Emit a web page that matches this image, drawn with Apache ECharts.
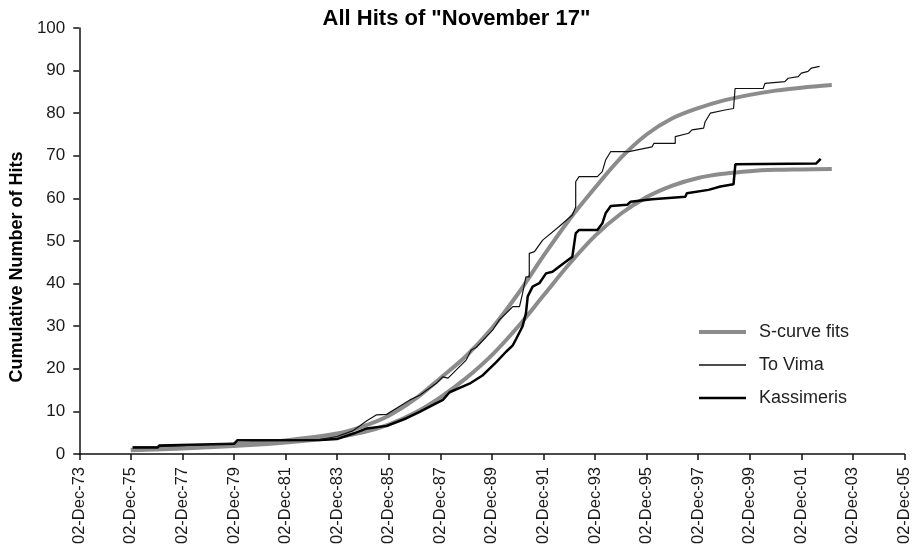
<!DOCTYPE html>
<html>
<head>
<meta charset="utf-8">
<script src="https://cdn.jsdelivr.net/npm/echarts@6/dist/echarts.min.js"></script>
<style>
  html, body { margin: 0; padding: 0; background: #fff; }
  #chart { width: 913px; height: 558px; }
</style>
</head>
<body>
<div id="chart"></div>
<script>
// Reference date 02-Dec-1973 as a decimal year (x axis origin)
const X0 = 1973.92;

const xTickLabels = ['02-Dec-73','02-Dec-75','02-Dec-77','02-Dec-79','02-Dec-81','02-Dec-83','02-Dec-85','02-Dec-87',
  '02-Dec-89','02-Dec-91','02-Dec-93','02-Dec-95','02-Dec-97','02-Dec-99','02-Dec-01','02-Dec-03','02-Dec-05'];

// S-curve fits (decimal years)
const sCurveYears = [1975.92, 1977.92, 1979.92, 1981.92, 1983.92, 1984.92, 1985.92, 1986.92, 1987.92, 1988.92,
  1989.92, 1990.92, 1991.92, 1992.92, 1993.92, 1994.92, 1995.92, 1996.92, 1997.92, 1998.92, 1999.92, 2000.92, 2001.92, 2003.1];
const sCurveToVima = [1.0, 1.5, 2.3, 3.2, 4.8, 6.5, 9.0, 12.8, 17.8, 23, 29.5, 37.5, 46.5, 55, 62.5, 69.5, 75, 78.8, 81.2, 83, 84.3, 85.3, 86, 86.6];
const sCurveKassimeris = [0.9, 1.3, 1.9, 2.7, 4.0, 5.1, 6.9, 9.6, 13.3, 17.8, 23.2, 29.8, 37.2, 44.6, 51.2, 56.4, 60.3, 63, 64.8, 65.8, 66.4, 66.7, 66.8, 66.9];

// To Vima cumulative hits
const toVimaYears = [1975.99, 1976.96, 1977.02, 1979.92, 1980.05, 1983.26, 1983.91, 1984.55, 1985.07, 1985.45, 1985.84,
  1986.74, 1987.12, 1987.77, 1988.02, 1988.22, 1988.93, 1989.12, 1989.31, 1989.94, 1990.21, 1990.60, 1990.73, 1990.99,
  1991.11, 1991.24, 1991.37, 1991.37, 1991.57, 1991.89, 1992.53, 1993.04, 1993.17, 1993.17, 1993.30, 1994.01, 1994.20,
  1994.33, 1994.53, 1995.23, 1996.13, 1996.20, 1997.03, 1997.03, 1997.55, 1997.68, 1998.13, 1998.19, 1998.39, 1998.96,
  1999.29, 1999.35, 2000.44, 2000.51, 2001.28, 2001.41, 2001.80, 2001.92, 2002.18, 2002.31, 2002.63];
const toVimaHits = [1.7, 1.7, 2.1, 2.5, 3.3, 3.4, 4.1, 5.5, 7.8, 9.2, 9.3,
  12.7, 13.8, 16.6, 18.1, 17.8, 22.1, 24.4, 25, 29, 31.5, 33.8, 34.6, 34.6,
  37.7, 41.6, 41.6, 47.1, 47.5, 50.2, 53.4, 56.1, 58, 63.9, 65.1, 65.1, 66.3,
  69, 71, 71, 72.1, 72.9, 72.9, 74.5, 75.3, 76.1, 76.5, 78, 80, 80.75,
  81.1, 85.8, 85.8, 87, 87.4, 88.2, 88.6, 89.4, 89.8, 90.6, 91];

// Kassimeris cumulative hits
const kassYears = [1975.99, 1976.96, 1977.02, 1979.92, 1980.05, 1983.26, 1983.91, 1984.55, 1985.07, 1985.84, 1986.61,
  1987.12, 1987.51, 1988.02, 1988.28, 1989.05, 1989.57, 1990.08, 1990.47, 1990.73, 1990.86, 1991.11, 1991.24, 1991.31,
  1991.50, 1991.76, 1992.02, 1992.27, 1992.64, 1993.04, 1993.17, 1993.30, 1994.01, 1994.20, 1994.33, 1994.53, 1995.17,
  1995.30, 1996.13, 1997.42, 1997.48, 1998.32, 1998.78, 1999.29, 1999.36, 2002.50, 2002.67];
const kassHits = [1.5, 1.5, 2.0, 2.4, 3.2, 3.3, 3.5, 4.8, 6.0, 6.6, 8.4,
  9.9, 11.1, 12.7, 14.5, 16.5, 18.5, 21.5, 24, 25.5, 27, 30, 33, 37,
  39.3, 40.1, 42.4, 42.8, 44.5, 46.3, 51.8, 52.6, 52.6, 54.1, 56.5, 58.2, 58.5,
  59.2, 59.8, 60.4, 61.2, 62, 62.8, 63.3, 68, 68.2, 69.3];

function pairs(years, vals) { return years.map((y, i) => [y - X0, vals[i]]); }

const chart = echarts.init(document.getElementById('chart'), null, { renderer: 'canvas' });
const FONT = 'Liberation Sans, Arial, sans-serif';
const GREY = '#8c8c8c';
const INK = '#111';

chart.setOption({
  animation: false,
  backgroundColor: '#fff',
  title: {
    text: 'All Hits of "November 17"',
    left: 'center',
    top: 3,
    textStyle: { fontFamily: FONT, fontWeight: 'bold', fontSize: 22, color: '#000' }
  },
  grid: { left: 78, right: 6, top: 28, bottom: 104, containLabel: false },
  legend: {
    orient: 'vertical',
    left: 694,
    top: 318,
    itemWidth: 47,
    itemHeight: 18,
    itemGap: 15,
    symbolKeepAspect: true,
    data: [
      { name: 'S-curve fits', icon: 'path://M0,0h47v4h-47z' },
      { name: 'To Vima', icon: 'path://M0,0h47v1.3h-47z' },
      { name: 'Kassimeris', icon: 'path://M0,0h47v2.6h-47z' }
    ],
    textStyle: { fontFamily: FONT, fontSize: 18, color: '#222', padding: [0, 0, 0, 8] }
  },
  xAxis: {
    type: 'value',
    min: 0, max: 32, interval: 2,
    axisLine: { lineStyle: { color: INK, width: 1.5 } },
    axisTick: { show: true, length: 6, lineStyle: { color: INK, width: 1.5 } },
    splitLine: { show: false },
    axisLabel: {
      rotate: 90, margin: 13,
      fontFamily: FONT, fontSize: 16.5, color: '#1a1a1a',
      formatter: v => xTickLabels[Math.round(v / 2)] || ''
    }
  },
  yAxis: {
    type: 'value',
    min: 0, max: 100, interval: 10,
    name: 'Cumulative Number of Hits',
    nameLocation: 'middle',
    nameGap: 53,
    nameTextStyle: { fontFamily: FONT, fontWeight: 'bold', fontSize: 18, color: '#000', padding: [0, 52, 0, 0] },
    axisLine: { show: true, lineStyle: { color: INK, width: 1.5 } },
    axisTick: { show: true, length: 6, lineStyle: { color: INK, width: 1.5 } },
    splitLine: { show: false },
    axisLabel: { margin: 14, fontFamily: FONT, fontSize: 17, color: '#1a1a1a' }
  },
  series: [
    { name: 'S-curve fits', type: 'line', data: pairs(sCurveYears, sCurveToVima), symbol: 'none',
      smooth: 0.35, lineStyle: { color: GREY, width: 4 }, itemStyle: { color: GREY }, z: 1 },
    { name: 'S-curve fits', type: 'line', data: pairs(sCurveYears, sCurveKassimeris), symbol: 'none',
      smooth: 0.35, lineStyle: { color: GREY, width: 4 }, itemStyle: { color: GREY }, z: 1 },
    { name: 'To Vima', type: 'line', data: pairs(toVimaYears, toVimaHits), symbol: 'none',
      lineStyle: { color: INK, width: 1.2 }, itemStyle: { color: INK }, z: 3 },
    { name: 'Kassimeris', type: 'line', data: pairs(kassYears, kassHits), symbol: 'none',
      lineStyle: { color: '#000', width: 2.5 }, itemStyle: { color: '#000' }, z: 2 }
  ]
});
</script>
</body>
</html>
